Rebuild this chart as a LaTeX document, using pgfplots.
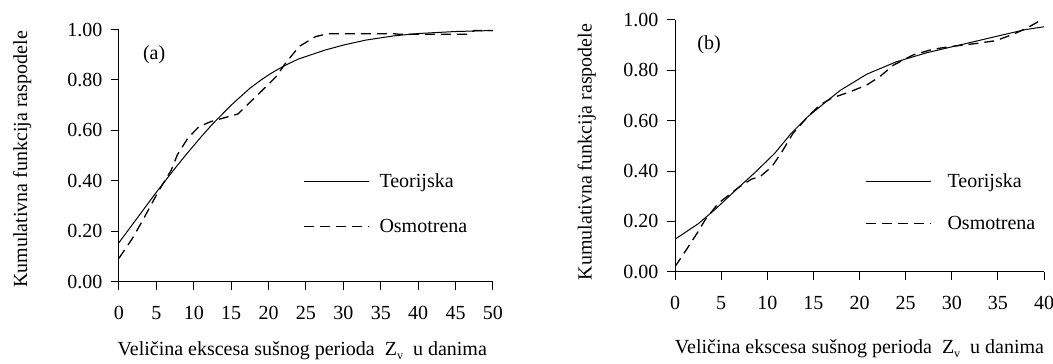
\documentclass[border=0pt]{standalone}
\usepackage{fontspec}
\setmainfont{Liberation Serif}
\usepackage{pgfplots}
\pgfplotsset{compat=1.18}
\newcommand{\bigf}{\fontsize{20}{22}\selectfont}
\newcommand{\subv}{\raisebox{-0.45ex}{\fontsize{12}{14}\selectfont v}}
\pgfplotsset{
  mystyle/.style={
    scale only axis,
    axis x line=bottom, axis y line=left,
    axis line style={-, line width=1pt},
    tick align=outside,
    major tick length=8pt,
    tick style={line width=1pt, black},
    ymin=0, ymax=1,
    ytick={0,0.2,0.4,0.6,0.8,1.0},
    yticklabel style={/pgf/number format/.cd, fixed, fixed zerofill, precision=2, assume math mode=true},
    xticklabel style={/pgf/number format/assume math mode=true},
    ticklabel style={font=\bigf},
    xticklabel shift=13pt,
    yticklabel shift=5pt,
    label style={font=\bigf},
    legend style={draw=none, fill=none, font=\bigf, inner xsep=0pt},
    legend cell align=left,
    legend image code/.code={\draw[##1] (0pt,0pt) -- (65pt,0pt);},
    solidline/.style={black, line width=1pt},
    dashedline/.style={black, line width=1.3pt, dash pattern=on 10pt off 6pt},
  }
}
\begin{document}
\begin{tikzpicture}[x=1pt,y=1pt]
\useasboundingbox (0,0) rectangle (1053,364);
\begin{axis}[mystyle,
  at={(119pt,82.3pt)}, anchor=south west,
  width=374pt, height=252.2pt,
  xmin=0, xmax=50, xtick={0,5,...,50},
  xlabel={Veličina ekscesa sušnog perioda \ Z\subv\ \ u danima},
  xlabel style={at={(axis description cs:0.49,-0.275)}, anchor=center},
  ylabel={Kumulativna funkcija raspodele},
  ylabel style={at={(axis description cs:-0.259,0.485)}, anchor=center},
  legend style={at={(axis description cs:0.492,0.3075)}, anchor=west, row sep=26pt,
    /tikz/every odd column/.append style={column sep=8pt}},
]
\addplot[solidline] coordinates {
(0,0.155) (1,0.195) (2,0.235) (2.5,0.255) (4,0.315) (5,0.355) (6,0.393) (7.5,0.45)
(9,0.505) (10,0.54) (11,0.575) (12.5,0.625) (14,0.67) (15,0.70) (16,0.727)
(17.5,0.767) (19,0.80) (20,0.82) (21,0.838) (22.5,0.862) (24,0.883) (25.7,0.90)
(27.5,0.918) (30.1,0.939) (33,0.958) (36.8,0.975) (40,0.984) (45,0.992) (50,0.996)};
\addlegendentry{Teorijska}
\addplot[dashedline] coordinates {
(0,0.093) (1.8,0.172) (3.2,0.245) (5.3,0.36) (7,0.443) (7.8,0.503) (9.2,0.569)
(10.7,0.615) (12.3,0.635) (15.9,0.665) (17.6,0.714) (19.2,0.76) (21,0.813)
(22.3,0.868) (24.1,0.933) (26.3,0.972) (27.9,0.983) (36.8,0.983) (37.5,0.981)
(46.5,0.981) (47.5,0.996) (50,0.996)};
\addlegendentry{Osmotrena}
\node[font=\bigf] at (axis cs:4.7,0.90) {(a)};
\end{axis}
\begin{axis}[mystyle,
  at={(675pt,92.3pt)}, anchor=south west,
  width=369pt, height=251.7pt,
  xmin=0, xmax=40, xtick={0,5,...,40},
  xlabel={Veličina ekscesa sušnog perioda \ Z\subv\ \ u danima},
  xlabel style={at={(axis description cs:0.5,-0.305)}, anchor=center},
  ylabel={Kumulativna funkcija raspodele},
  ylabel style={at={(axis description cs:-0.239,0.475)}, anchor=center},
  legend style={at={(axis description cs:0.515,0.2747)}, anchor=west, row sep=23pt,
    /tikz/every odd column/.append style={column sep=14pt}},
]
\addplot[solidline] coordinates {
(0,0.129) (2.5,0.19) (4.3,0.246) (6.9,0.335) (8.7,0.395) (10.8,0.47) (12.6,0.55)
(14.4,0.616) (16.6,0.682) (17.9,0.72) (20.8,0.785) (24,0.834) (27.3,0.87)
(31.6,0.907) (35.9,0.944) (38,0.962) (40,0.973)};
\addlegendentry{Teorijska}
\addplot[dashedline] coordinates {
(0,0.02) (1.1,0.08) (2.4,0.153) (3.25,0.205) (4.7,0.272) (6.9,0.335) (8.3,0.368)
(9.2,0.377) (10.5,0.417) (11.6,0.477) (12.8,0.55) (14.4,0.616) (15.7,0.662)
(17,0.69) (19,0.715) (20.8,0.742) (22.2,0.775) (23.7,0.821) (25.8,0.861) (28,0.884)
(29.8,0.894) (32.7,0.907) (34.8,0.918) (36.7,0.944) (38.1,0.967) (39.7,1.0)};
\addlegendentry{Osmotrena}
\node[font=\bigf] at (axis cs:3.7,0.90) {(b)};
\end{axis}
\end{tikzpicture}
\end{document}
